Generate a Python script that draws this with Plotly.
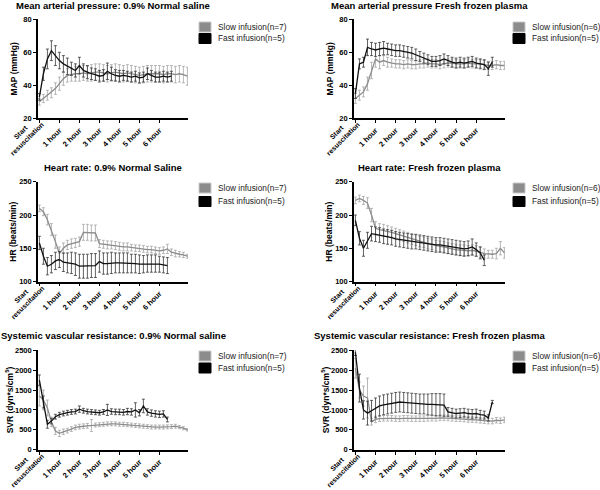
import plotly.graph_objects as go

W, H = 600, 490
STEP_H = 0.2  # sampling step of the series, hours

tick_hours = [0, 1, 2, 3, 4, 5, 6]
tick_labels = ["", "1 hour", "2 hour", "3 hour", "4 hour", "5 hour", "6 hour"]
start_label = "Start<br>resuscitation"   # label of the 0-hour tick (two centred lines)

# ---------------- Mean arterial pressure, 0.9% normal saline ----------------
map_ns_slow = [30, 32, 34, 35.5, 38, 41, 44, 46, 46.5, 47, 47, 47.5, 47, 47.5, 48, 48, 47.5, 47, 47.5, 48,
               47.5, 47, 47.5, 47, 46.5, 46, 46.5, 47, 47, 47, 47, 46.5, 47, 47, 46.5, 47, 46.5, 45.5]
map_ns_slow_err = [2, 2.5, 3, 3, 3.5, 4, 4, 4, 4, 4.5, 4.5, 4.5, 4.5, 5, 5, 5, 5, 5, 5, 5,
                   5, 5, 5, 5, 5, 5, 5, 5, 5, 5, 5, 5, 5, 5, 5, 5, 5, 5.5]
map_ns_fast = [33, 47, 56, 61, 58, 55, 53, 51.5, 50, 49, 52, 49, 48, 47, 46.5, 45.5, 46, 48.5, 47, 46,
               45.5, 46, 45.5, 45, 45.5, 44.5, 45, 47, 46, 45, 45, 45.5, 45, 45.5]
map_ns_fast_err = [2, 4, 6, 6, 6, 5, 5, 5, 4, 4, 5, 4, 4, 3.5, 3.5, 3.5, 3.5, 5, 4, 3.5,
                   3.5, 3, 3, 3, 3, 3, 3, 3.5, 3, 3, 3, 3, 3, 3]

# ---------------- Mean arterial pressure, fresh frozen plasma ----------------
map_ffp_slow = [32, 34, 36, 41, 49, 56, 54, 55, 54, 53.5, 53, 53, 52.5, 53, 52.5, 52.5, 53, 53, 53.5, 53,
                53, 52.5, 53, 53.5, 53.5, 53, 53, 53, 53.5, 53, 53, 53, 52.5, 52, 52, 52.5, 52, 52]
map_ffp_slow_err = [3, 3, 3, 4, 5, 5, 4, 3, 3, 2.5, 2.5, 2.5, 2.5, 2.5, 2.5, 2.5, 2.5, 2.5, 2.5, 2.5,
                    2.5, 2.5, 2.5, 2.5, 2.5, 2.5, 2.5, 2.5, 2.5, 2.5, 2.5, 2.5, 2.5, 2.5, 2.5, 2.5, 2.5, 2.5]
map_ffp_fast = [35, 53, 54, 63, 62, 61.5, 62, 62.5, 62, 61.5, 61, 61, 60.5, 60, 59.5, 58.5, 57.5, 56.5, 55.5, 54.5,
                54.5, 55, 56, 55, 54, 53.5, 54, 53.5, 54, 54.5, 53.5, 53, 52.5, 50, 54]
map_ffp_fast_err = [3, 3, 3, 5, 4, 4, 4, 4, 3.5, 3.5, 3.5, 3.5, 3.5, 3.5, 3.5, 3.5, 3, 3, 3, 3,
                    3, 3, 3, 3, 3, 3, 3, 3, 3, 3, 3, 3, 3, 4, 3]

# ---------------- Heart rate, 0.9% normal saline ----------------
hr_ns_slow = [210, 205, 193, 178, 160, 142, 150, 155, 157, 158, 160, 174, 174, 173, 173, 157, 156, 155, 155, 154,
              153, 152, 152, 151, 150, 150, 149, 148, 148, 147, 146, 147, 149, 144, 142, 141, 140, 138]
hr_ns_slow_err = [5, 6, 8, 9, 10, 10, 8, 7, 7, 7, 7, 12, 12, 12, 12, 6, 6, 6, 6, 6,
                  6, 6, 6, 5, 5, 5, 5, 5, 5, 5, 5, 5, 7, 5, 5, 4, 4, 3]
hr_ns_fast = [158, 138, 123, 126, 131, 133, 129, 128, 128, 126, 123, 123, 123, 124, 124, 130, 127, 127, 128, 128,
              128, 128, 128, 127, 127, 126, 126, 127, 127, 127, 126, 125, 124]
hr_ns_fast_err = [10, 12, 13, 13, 13, 12, 14, 15, 16, 17, 18, 18, 18, 18, 18, 16, 16, 16, 16, 15,
                  15, 15, 15, 14, 14, 14, 13, 13, 13, 13, 12, 12, 12]

# ---------------- Heart rate, fresh frozen plasma ----------------
hr_ffp_slow = [222, 225, 222, 218, 200, 180, 178, 177, 176, 174, 172, 170, 168, 166, 164, 162, 160, 159, 157, 156,
               154, 153, 152, 150, 149, 148, 147, 147, 146, 147, 146, 144, 142, 141, 141, 142, 150, 143]
hr_ffp_slow_err = [5, 5, 6, 8, 10, 10, 9, 9, 8, 8, 8, 8, 8, 8, 8, 8, 8, 8, 8, 8,
                   8, 8, 8, 8, 8, 8, 8, 8, 8, 8, 8, 8, 7, 6, 6, 8, 10, 8]
hr_ffp_fast = [192, 165, 150, 162, 172, 171, 170, 168, 167, 166, 164, 163, 162, 161, 160, 160, 159, 158, 157, 156,
               155, 155, 154, 153, 152, 151, 150, 149, 150, 152, 148, 143, 132]
hr_ffp_fast_err = [8, 10, 12, 12, 11, 11, 11, 11, 11, 11, 11, 11, 11, 11, 11, 11, 11, 11, 11, 11,
                   11, 11, 11, 11, 11, 11, 11, 11, 11, 12, 10, 9, 8]

# ---------------- Systemic vascular resistance, 0.9% normal saline ----------------
svr_ns_slow = [1350, 1250, 1050, 700, 470, 410, 450, 480, 520, 560, 580, 590, 600, 610, 620, 630, 640, 650, 650, 650,
               640, 640, 630, 620, 610, 600, 590, 580, 570, 570, 570, 570, 575, 580, 590, 570, 540, 500]
svr_ns_slow_err = [250, 250, 200, 120, 90, 80, 70, 60, 60, 60, 60, 60, 60, 150, 50, 50, 50, 50, 50, 50,
                   50, 50, 50, 50, 50, 50, 50, 50, 50, 50, 50, 50, 50, 50, 50, 40, 40, 30]
svr_ns_fast = [1750, 1200, 640, 720, 830, 880, 910, 930, 950, 960, 1020, 980, 960, 950, 940, 930, 950, 1000, 960, 950,
               950, 940, 960, 950, 1000, 930, 1100, 950, 920, 900, 890, 900, 760]
svr_ns_fast_err = [130, 150, 100, 70, 60, 60, 60, 60, 60, 60, 80, 60, 60, 60, 60, 60, 60, 140, 70, 70,
                   70, 70, 80, 80, 180, 80, 170, 80, 80, 80, 80, 80, 60]

# ---------------- Systemic vascular resistance, fresh frozen plasma ----------------
svr_ffp_slow = [2050, 1500, 1350, 1300, 700, 760, 780, 790, 790, 790, 780, 780, 790, 790, 780, 780, 780, 780, 790, 790,
                790, 800, 800, 800, 790, 780, 780, 770, 760, 760, 750, 740, 730, 720, 720, 740, 730, 750]
svr_ffp_slow_err = [250, 200, 250, 500, 80, 80, 70, 70, 70, 70, 70, 70, 70, 70, 70, 70, 70, 70, 70, 70,
                    70, 70, 70, 70, 70, 70, 70, 70, 70, 70, 70, 70, 70, 70, 70, 70, 70, 70]
svr_ffp_fast = [2450, 1550, 1000, 920, 980, 1050, 1100, 1130, 1150, 1170, 1190, 1200, 1190, 1180, 1170, 1160, 1150, 1150, 1140, 1140,
                1130, 1130, 1120, 950, 930, 910, 920, 930, 910, 900, 910, 880, 870, 800, 1200]
svr_ffp_fast_err = [80, 350, 230, 300, 260, 250, 250, 250, 250, 250, 250, 250, 250, 250, 250, 250, 250, 250, 260, 270,
                    280, 280, 280, 110, 110, 110, 110, 110, 110, 110, 110, 110, 100, 80, 40]

panels = [
    dict(title="Mean arterial pressure: 0.9% Normal saline", ytitle="MAP (mmHg)", yr=[20, 80], yt=[20, 40, 60, 80],
         slow=map_ns_slow, slow_err=map_ns_slow_err, fast=map_ns_fast, fast_err=map_ns_fast_err, n_slow=7, n_fast=5),
    dict(title="Mean arterial pressure Fresh frozen plasma", ytitle="MAP (mmHg)", yr=[20, 80], yt=[20, 40, 60, 80],
         slow=map_ffp_slow, slow_err=map_ffp_slow_err, fast=map_ffp_fast, fast_err=map_ffp_fast_err, n_slow=6, n_fast=5),
    dict(title="Heart rate: 0.9% Normal Saline", ytitle="HR (beats/min)", yr=[100, 250], yt=[100, 150, 200, 250],
         slow=hr_ns_slow, slow_err=hr_ns_slow_err, fast=hr_ns_fast, fast_err=hr_ns_fast_err, n_slow=7, n_fast=5),
    dict(title="Heart rate: Fresh frozen plasma", ytitle="HR (beats/min)", yr=[100, 250], yt=[100, 150, 200, 250],
         slow=hr_ffp_slow, slow_err=hr_ffp_slow_err, fast=hr_ffp_fast, fast_err=hr_ffp_fast_err, n_slow=6, n_fast=5),
    dict(title="Systemic vascular resistance: 0.9% Normal saline", ytitle="SVR (dyn*s/cm<sup>5</sup>)", yr=[0, 2500],
         yt=[0, 500, 1000, 1500, 2000, 2500],
         slow=svr_ns_slow, slow_err=svr_ns_slow_err, fast=svr_ns_fast, fast_err=svr_ns_fast_err, n_slow=7, n_fast=5),
    dict(title="Systemic vascular resistance: Fresh frozen plasma", ytitle="SVR (dyn*s/cm<sup>5</sup>)", yr=[0, 2500],
         yt=[0, 500, 1000, 1500, 2000, 2500],
         slow=svr_ffp_slow, slow_err=svr_ffp_slow_err, fast=svr_ffp_fast, fast_err=svr_ffp_fast_err, n_slow=6, n_fast=5),
]

FONT = "Liberation Sans, Arial, sans-serif"
SLOW_LINE = "#8c8c8c"
SLOW_ERR = "#a6a6a6"
FAST_LINE = "#111111"
FAST_ERR = "#3a3a3a"

# plot-area geometry in pixels (left, right, top, bottom)
col_x = [(38, 188), (354, 505)]
row_y = [(19.3, 118.3), (181.8, 281.5), (350.3, 449.7)]
title_y = [5.5, 167, 335]
ytitle_standoff = [4, 1, 0]
legend_sq_x = [(199, 211), (513, 525)]
legend_rows = [((22, 32), (33.5, 43.5)), ((183, 193), (196.5, 206.5)), ((351, 361), (363, 373))]


def px(x):
    return x / W


def py(y):
    return 1 - y / H


def hours(n):
    return [round(i * STEP_H, 2) for i in range(n)]


fig = go.Figure()
annotations = []
shapes = []

for i, p in enumerate(panels):
    r, c = divmod(i, 2)
    idx = "" if i == 0 else str(i + 1)
    xa, ya = "x" + idx, "y" + idx
    x0, x1 = col_x[c]
    y0, y1 = row_y[r]

    fig.add_trace(go.Scatter(
        x=hours(len(p["slow"])), y=p["slow"], mode="lines", xaxis=xa, yaxis=ya, showlegend=False,
        line=dict(color=SLOW_LINE, width=1.3),
        error_y=dict(type="data", array=p["slow_err"], color=SLOW_ERR, thickness=0.8, width=1.5)))
    fig.add_trace(go.Scatter(
        x=hours(len(p["fast"])), y=p["fast"], mode="lines", xaxis=xa, yaxis=ya, showlegend=False,
        line=dict(color=FAST_LINE, width=1.3),
        error_y=dict(type="data", array=p["fast_err"], color=FAST_ERR, thickness=0.8, width=1.5)))

    fig.layout["xaxis" + idx] = dict(
        domain=[px(x0), px(x1)], anchor=ya, range=[-0.07, 7.43], automargin=False,
        showline=True, linecolor="black", linewidth=1.6, mirror=False,
        ticks="outside", ticklen=3, tickwidth=1.3, tickcolor="black",
        tickvals=tick_hours, ticktext=tick_labels, tickangle=-45,
        tickfont=dict(family=FONT, size=7.5, color="black", weight="bold"),
        showgrid=False, zeroline=False, fixedrange=True)
    fig.layout["yaxis" + idx] = dict(
        domain=[py(y1), py(y0)], anchor=xa, range=p["yr"], tickvals=p["yt"], automargin=False,
        showline=True, linecolor="black", linewidth=1.6,
        ticks="outside", ticklen=3, tickwidth=1.3, tickcolor="black",
        tickfont=dict(family=FONT, size=7.5, color="black", weight="bold"),
        title=dict(text=p["ytitle"], font=dict(family=FONT, size=8.5, color="black", weight="bold"),
                   standoff=ytitle_standoff[r]),
        showgrid=False, zeroline=False, fixedrange=True)

    # two-line label of the start tick, centred lines, hung below-left of the tick
    annotations.append(dict(
        text="<b>" + start_label + "</b>", x=tick_hours[0], y=py(y1), xref=xa, yref="paper",
        xanchor="center", yanchor="middle", xshift=-15, yshift=-17, textangle=-45, align="center",
        borderpad=0, borderwidth=0,
        showarrow=False, font=dict(family=FONT, size=7, color="black")))

    annotations.append(dict(
        text="<b>" + p["title"] + "</b>", x=px((x0 + x1) / 2), y=py(title_y[r]), xref="paper", yref="paper",
        xanchor="center", yanchor="middle", showarrow=False, font=dict(family=FONT, size=9.5, color="black")))

    # legend (one per panel)
    sx0, sx1 = legend_sq_x[c]
    entries = [("Slow infusion(n=%d)" % p["n_slow"], SLOW_LINE, "#c8c8c8"),
               ("Fast infusion(n=%d)" % p["n_fast"], "#000000", "#000000")]
    for (label, fill, edge), (ly0, ly1) in zip(entries, legend_rows[r]):
        shapes.append(dict(type="rect", xref="paper", yref="paper", x0=px(sx0), x1=px(sx1), y0=py(ly1), y1=py(ly0),
                           fillcolor=fill, line=dict(color=edge, width=1)))
        annotations.append(dict(
            text=label, x=px(sx1 + 5), y=py((ly0 + ly1) / 2), xref="paper", yref="paper",
            xanchor="left", yanchor="middle", showarrow=False, font=dict(family=FONT, size=8.3, color="#222222")))

fig.update_layout(
    template="none",
    width=W, height=H, margin=dict(l=0, r=0, t=0, b=0, autoexpand=False),
    paper_bgcolor="white", plot_bgcolor="white",
    font=dict(family=FONT, color="black"),
    annotations=annotations, shapes=shapes, showlegend=False)

fig.write_html("out.html", config={"displayModeBar": False},
               post_script="document.body.style.margin='0px';")
